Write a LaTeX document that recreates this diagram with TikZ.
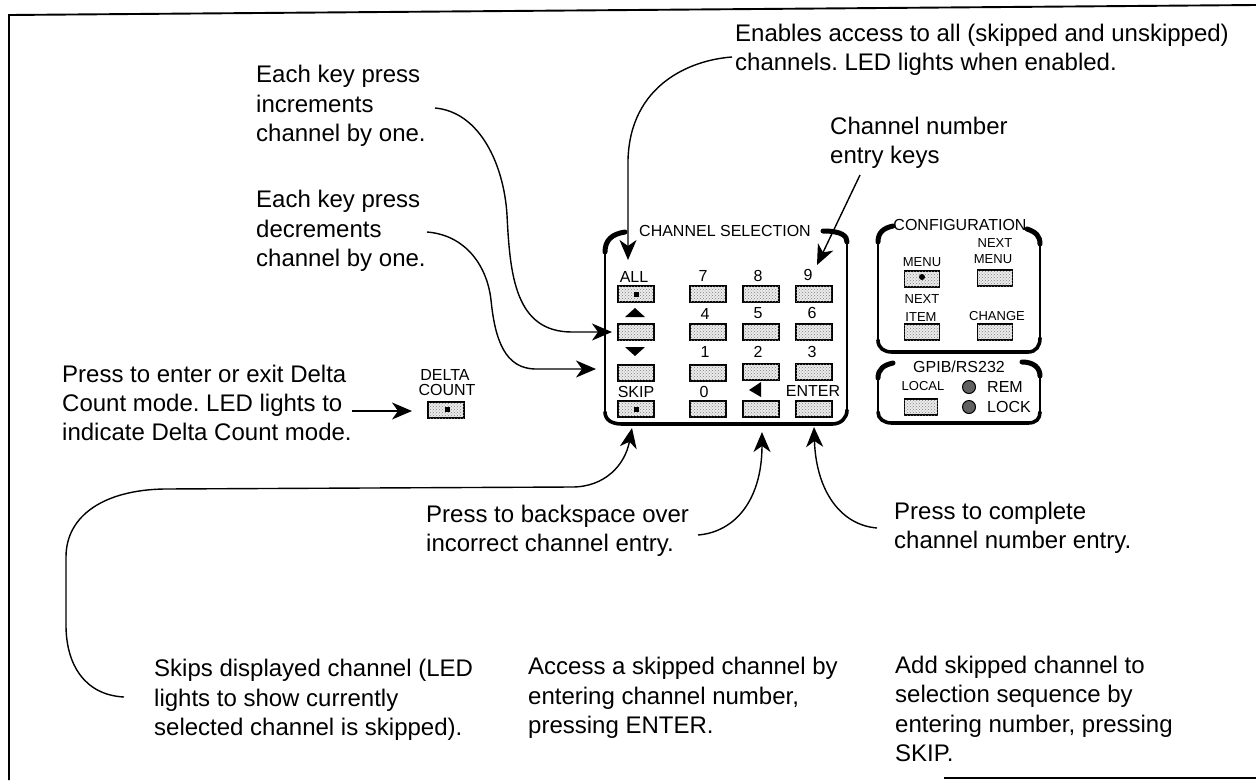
\documentclass[tikz,border=0pt]{standalone}
\usepackage{fontspec}
\setmainfont{Liberation Sans}
\frenchspacing
\usetikzlibrary{arrows.meta,patterns}
\tikzset{
  note/.style={anchor=west,align=left,inner sep=0pt,font=\fontsize{24}{29.4}\selectfont},
  lab/.style={inner sep=0pt,font=\fontsize{16}{16}\selectfont},
  labs/.style={inner sep=0pt,font=\fontsize{13}{13}\selectfont},
  keybox/.style={draw=black,line width=1.9pt,minimum width=36pt,minimum height=16pt,inner sep=0pt,fill=black!8,postaction={pattern=crosshatch dots,pattern color=black!50}},
  led/.style={draw=none,fill=black,inner sep=0pt,minimum size=5pt},
  lamp/.style={circle,draw=black,line width=1pt,fill=black!62,inner sep=0pt,minimum size=13pt},
  tri/.style={fill=black,draw=none},
  pan/.style={line width=2.4pt,line cap=round},
  panb/.style={line width=3.6pt,line cap=round},
  pant/.style={line width=5pt,line cap=round},
  conn/.style={line width=1.4pt,-{Stealth[length=20pt,width=17pt,inset=6pt]}},
  frame/.style={line width=1.9pt}
}
\begin{document}
\begin{tikzpicture}[x=1pt,y=-1pt]
\useasboundingbox (0,0) rectangle (1256,780);
% frame
\coordinate (fTL) at (9,15);
\coordinate (fTR) at (1256,5);
\coordinate (fBL) at (9,780);
\coordinate (fB1) at (944,778);
\coordinate (fB2) at (1256,778);
\draw[frame] (fBL) -- (fTL) -- (fTR);
\draw[frame] (fB1) -- (fB2);
% notes
\node[note] (nAll) at (735,50) {Enables access to all (skipped and unskipped)\\channels. LED lights when enabled.};
\node[note] (nInc) at (256,106) {Each key press\\increments\\channel by one.};
\node[note] (nDec) at (256,231) {Each key press\\decrements\\channel by one.};
\node[note] (nNum) at (830,143) {Channel number\\entry keys};
\node[note] (nDelta) at (62,403) {Press to enter or exit Delta\\Count mode. LED lights to\\indicate Delta Count mode.};
\node[note] (nBack) at (426,531) {Press to backspace over\\incorrect channel entry.};
\node[note] (nEnter) at (894,528) {Press to complete\\channel number entry.};
\node[note] (nSkip) at (154,700) {Skips displayed channel (LED\\lights to show currently\\selected channel is skipped).};
\node[note] (nAcc) at (528,698) {Access a skipped channel by\\entering channel number,\\pressing ENTER.};
\node[note] (nAdd) at (895,709) {Add skipped channel to\\selection sequence by\\entering number, pressing\\SKIP.};
% channel panel
\draw[pan] (605,252) -- (605,412);
\draw[pan] (847,242) -- (847,410);
\draw[panb] (605,412) .. controls (605,420) and (612,424) .. (622,424) -- (832,424) .. controls (841,424) and (847,418) .. (847,410);
\draw[pant] (625,232) .. controls (612,234) and (605,240) .. (605,252);
\draw[pant] (847,242) .. controls (847,236) and (842,231) .. (823,231);
\node[lab] (tChan) at (725,231) {CHANNEL SELECTION};
% keys channel
\node[keybox] (kAll) at (636,294) {};
\node[keybox] (kUp) at (636,332) {};
\node[keybox] (kDown) at (636,373) {};
\node[keybox] (kSkip) at (636,409) {};
\node[keybox] (k7) at (708,294) {};
\node[keybox] (k8) at (761,294) {};
\node[keybox] (k9) at (814,294) {};
\node[keybox] (k4) at (708,332) {};
\node[keybox] (k5) at (761,332) {};
\node[keybox] (k6) at (814,332) {};
\node[keybox] (k1) at (708,373) {};
\node[keybox] (k2) at (761,372) {};
\node[keybox] (k3) at (814,372) {};
\node[keybox] (k0) at (708,409) {};
\node[keybox] (kBack) at (761,409) {};
\node[keybox] (kEnter) at (814,409) {};
\node[led] (lAll) at (636,294) {};
\node[led] (lSkip) at (636,409) {};
\node[lab] (tAll) at (634,277) {ALL};
\node[lab] (tSkip) at (636,392) {SKIP};
\node[lab] (t7) at (703,276) {7};
\node[lab] (t8) at (758,276) {8};
\node[lab] (t9) at (808,275) {9};
\node[lab] (t4) at (705,314) {4};
\node[lab] (t5) at (758,313) {5};
\node[lab] (t6) at (812,313) {6};
\node[lab] (t1) at (705,352) {1};
\node[lab] (t2) at (758,352) {2};
\node[lab] (t3) at (812,352) {3};
\node[lab] (t0) at (704,392) {0};
\node[lab] (tEnter) at (813,391) {ENTER};
\fill[tri] (625,317) -- (645,317) -- (635,308) -- cycle;
\fill[tri] (625,347) -- (645,347) -- (635,356) -- cycle;
\fill[tri] (749,390) -- (761,382) -- (761,397) -- cycle;
% configuration panel
\draw[pan] (878,242) -- (878,340);
\draw[pan] (1040,338) -- (1040,244);
\draw[panb] (878,340) .. controls (878,348) and (884,352) .. (892,352) -- (1028,352) .. controls (1036,352) and (1040,346) .. (1040,338);
\draw[pant] (893,226) .. controls (884,228) and (878,232) .. (878,242);
\draw[pant] (1040,244) .. controls (1040,236) and (1036,232) .. (1027,229);
\node[lab] (tConf) at (960,225) {CONFIGURATION};
\node[keybox,minimum width=35pt] (kMenu) at (922,279) {};
\node[keybox,minimum width=35pt] (kNMenu) at (995,278) {};
\node[keybox,minimum width=35pt] (kNItem) at (922,332) {};
\node[keybox,minimum width=35pt] (kChange) at (995,332) {};
\node[led,circle,minimum size=6pt] (lMenu) at (922,277) {};
\node[labs] (tMenu) at (922,262) {MENU};
\node[labs] (tNext1) at (995,243) {NEXT};
\node[labs] (tMenu2) at (993,259) {MENU};
\node[labs] (tNext2) at (922,299) {NEXT};
\node[labs] (tItem) at (921,317) {ITEM};
\node[labs] (tChange) at (997,316) {CHANGE};
% gpib panel
\draw[pan] (878,378) -- (878,412);
\draw[pan] (1040,412) -- (1040,376);
\draw[panb] (878,412) .. controls (878,419) and (884,423) .. (892,423) -- (1028,423) .. controls (1036,423) and (1040,419) .. (1040,412);
\draw[pant] (893,363) .. controls (884,365) and (878,369) .. (878,378);
\draw[pant] (1040,376) .. controls (1040,368) and (1034,362) .. (1022,362);
\node[lab] (tGpib) at (959,367) {GPIB/RS232};
\node[labs] (tLocal) at (923,386) {LOCAL};
\node[keybox,minimum width=33pt] (kLocal) at (921,407) {};
\node[lamp] (lRem) at (969,387) {};
\node[lamp] (lLock) at (969,407) {};
\node[lab,anchor=west] (tRem) at (987,387) {REM};
\node[lab,anchor=west] (tLock) at (987,407) {LOCK};
% delta
\node[lab] (tDelta) at (445,375) {DELTA};
\node[lab] (tCount) at (447,390) {COUNT};
\node[keybox] (kDelta) at (446,410) {};
\node[led] (lDelta) at (447,409) {};
% connector ends
\coordinate (aAll0) at (732,57);
\coordinate (aAll1) at (628,260);
\coordinate (aInc0) at (435,108);
\coordinate (aInc1) at (612,332);
\coordinate (aDec0) at (427,232);
\coordinate (aDec1) at (596,369);
\coordinate (aDel0) at (352,411);
\coordinate (aDel1) at (412,411);
\coordinate (aNum0) at (860,175);
\coordinate (aNum1) at (817,265);
\coordinate (aSk0) at (124,697);
\coordinate (aSk1) at (632,428);
\coordinate (aBk0) at (698,535);
\coordinate (aBk1) at (762,432);
\coordinate (aEn0) at (877,528);
\coordinate (aEn1) at (814,427);
\draw[conn] (aAll0) .. controls (690,60) and (630,85) .. (628,160) -- (aAll1);
\draw[conn] (aInc0) .. controls (480,112) and (504,165) .. (507,215) .. controls (510,275) and (515,332) .. (572,332) -- (aInc1);
\draw[conn] (aDec0) .. controls (465,235) and (487,265) .. (491,300) .. controls (495,340) and (505,369) .. (536,369) -- (aDec1);
\draw[conn] (aDel0) -- (aDel1);
\draw[conn] (aNum0) -- (aNum1);
\draw[conn] (aSk0) .. controls (85,695) and (66,665) .. (66,625) -- (66,557) .. controls (66,515) and (105,490) .. (164,489) -- (572,487) .. controls (605,487) and (625,465) .. (aSk1);
\draw[conn] (aBk0) .. controls (735,532) and (762,500) .. (aBk1);
\draw[conn] (aEn0) .. controls (840,525) and (816,490) .. (aEn1);
\end{tikzpicture}
\end{document}
